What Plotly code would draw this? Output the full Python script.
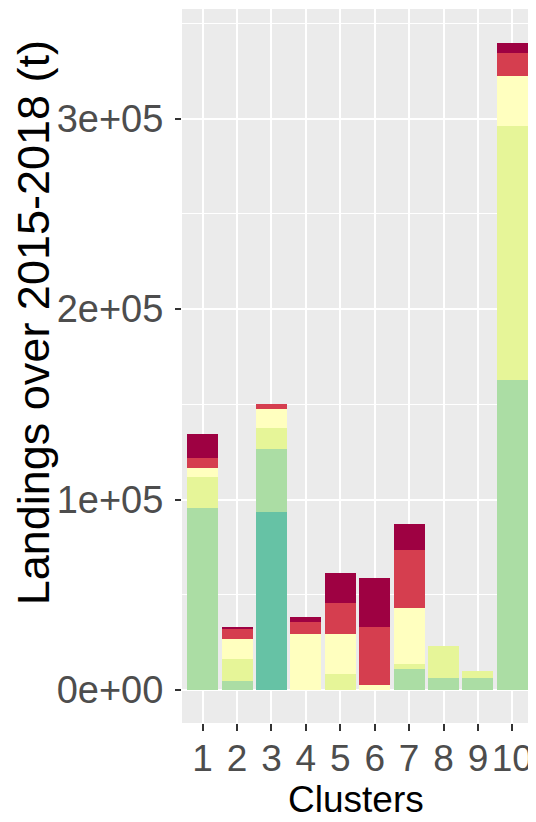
import plotly.graph_objects as go

clusters = [1, 2, 3, 4, 5, 6, 7, 8, 9, 10]
cluster_labels = ["1", "2", "3", "4", "5", "6", "7", "8", "9", "10"]

# landings (tonnes), stacked from bottom to top
s_teal = [0, 0, 93500, 0, 0, 0, 0, 0, 0, 0]
s_lightgreen = [95800, 4900, 33200, 0, 0, 0, 11200, 6100, 6100, 162600]
s_yellowgreen = [16100, 11200, 11100, 0, 8500, 0, 2400, 17000, 3900, 133700]
s_lightyellow = [4900, 10800, 9900, 29500, 21000, 2500, 29400, 0, 0, 26200]
s_red = [5000, 5100, 2600, 6000, 16000, 30700, 30800, 0, 0, 12200]
s_darkred = [12400, 1200, 0, 2600, 16000, 25900, 13600, 0, 0, 5100]

series = [
    ("F", s_teal, "#66C2A5"),
    ("E", s_lightgreen, "#ABDDA4"),
    ("D", s_yellowgreen, "#E6F598"),
    ("C", s_lightyellow, "#FFFFBF"),
    ("B", s_red, "#D53E4F"),
    ("A", s_darkred, "#9E0142"),
]

y_tickvals = [0, 100000, 200000, 300000]
y_ticktext = ["0e+00", "1e+05", "2e+05", "3e+05"]

fig = go.Figure()
for name, vals, col in series:
    fig.add_trace(go.Bar(x=clusters, y=vals, name=name,
                         marker=dict(color=col, line=dict(width=0))))

font_family = "Liberation Sans, Arial, sans-serif"
fig.update_layout(
    width=528, height=814,
    barmode="stack", bargap=0.1,
    showlegend=False,
    paper_bgcolor="white", plot_bgcolor="#EBEBEB",
    margin=dict(l=174, r=3, t=1, b=99, autoexpand=False),
    font=dict(family=font_family),
    xaxis=dict(
        range=[0.4, 10.6], tickvals=clusters, ticktext=cluster_labels,
        showgrid=True, gridcolor="white", gridwidth=1.6,
        ticks="outside", ticklen=7, tickwidth=1.6, tickcolor="#333333",
        ticklabelstandoff=-4,
        tickfont=dict(size=37, color="#4D4D4D"),
        zeroline=False, showline=False, automargin=False,
    ),
    yaxis=dict(
        range=[-17300, 357600], tickvals=y_tickvals, ticktext=y_ticktext,
        showgrid=True, gridcolor="white", gridwidth=1.6,
        minor=dict(dtick=50000, tick0=0, showgrid=True, gridcolor="white", gridwidth=0.8),
        ticks="outside", ticklen=6, tickwidth=1.6, tickcolor="#333333",
        ticklabelstandoff=4,
        tickfont=dict(size=38, color="#4D4D4D"),
        zeroline=False, showline=False, automargin=False,
    ),
    annotations=[
        dict(
            text="Landings over 2015-2018 (t)", textangle=-90,
            xref="paper", yref="paper", x=-0.424, y=0.560,
            xanchor="center", yanchor="middle", showarrow=False,
            font=dict(size=45, color="black", family=font_family),
        ),
        dict(
            text="Clusters",
            xref="paper", yref="paper", x=0.496, y=-0.107,
            xanchor="center", yanchor="middle", showarrow=False,
            font=dict(size=37, color="black", family=font_family),
        ),
    ],
)

fig.write_html("out.html")
